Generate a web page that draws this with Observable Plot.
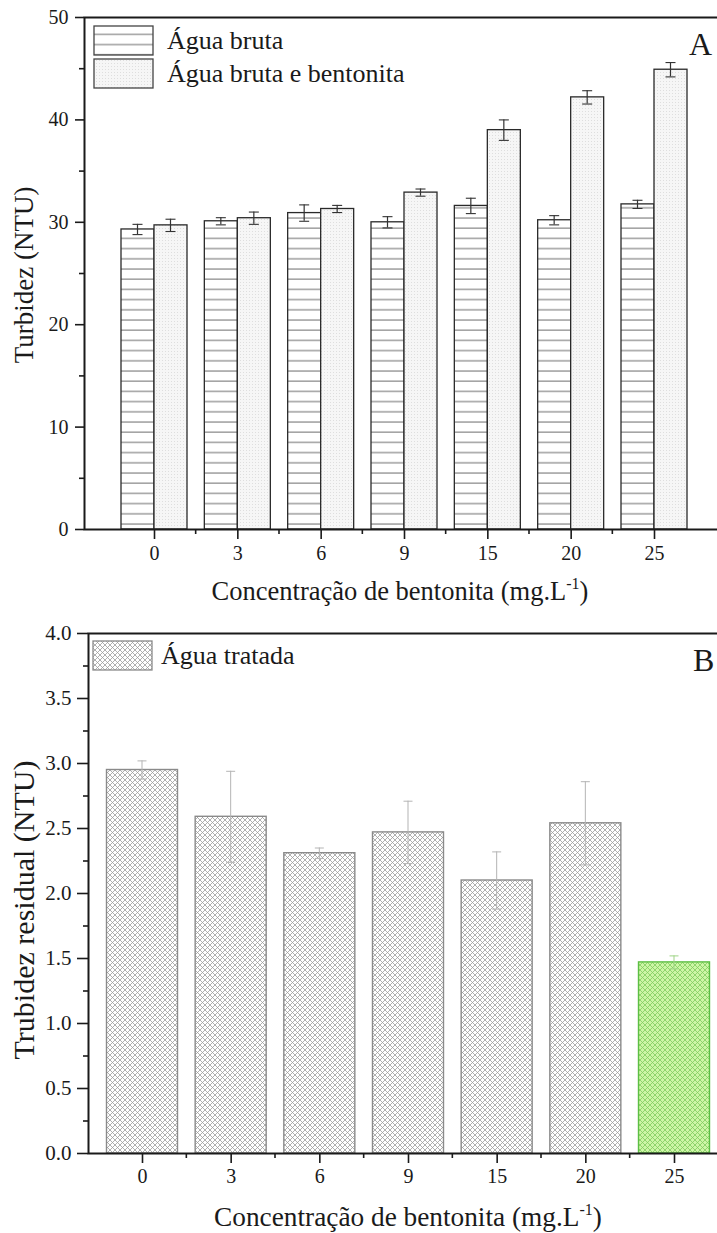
<!DOCTYPE html>
<html><head><meta charset="utf-8">
<script src="https://cdn.jsdelivr.net/npm/d3@7"></script>
<script src="https://cdn.jsdelivr.net/npm/@observablehq/plot@0.6"></script>
<style>
html,body{margin:0;padding:0;background:#fff;overflow:hidden;}
.panel{width:717px;overflow:hidden;}
.panel svg{display:block;max-width:none !important;}
.panel svg text, .panel svg tspan{font-family:'Liberation Serif','Times New Roman','DejaVu Serif',serif !important;}
</style></head><body>
<div id="top" class="panel"></div>
<div id="bottom" class="panel"></div>
<script>
// ---- data ----
const concentrations = ["0", "3", "6", "9", "15", "20", "25"];
const rawWater = [29.3, 30.1, 30.9, 30.0, 31.6, 30.2, 31.75];
const rawWaterErr = [0.5, 0.35, 0.8, 0.55, 0.75, 0.45, 0.4];
const rawBentonite = [29.7, 30.4, 31.3, 32.9, 39.0, 42.2, 44.9];
const rawBentoniteErr = [0.6, 0.6, 0.35, 0.35, 1.0, 0.65, 0.7];
const treated = [2.95, 2.59, 2.31, 2.47, 2.10, 2.54, 1.47];
const treatedErr = [0.07, 0.35, 0.04, 0.24, 0.22, 0.32, 0.05];
const highlighted = ["25"];
const topMajorTicks = [0, 10, 20, 30, 40, 50];
const topMinorTicks = [5, 15, 25, 35, 45];
const botMajorTicks = [0, 0.5, 1, 1.5, 2, 2.5, 3, 3.5, 4];
const botMinorTicks = [0.25, 0.75, 1.25, 1.75, 2.25, 2.75, 3.25, 3.75];
const seriesNames = ["Água bruta", "Água bruta e bentonita"];
const treatedName = "Água tratada";
const xTitle = ["Concentração de bentonita (mg.L", "-1", ")"];
const yTitleTop = "Turbidez (NTU)";
const yTitleBottom = "Trubidez residual (NTU)";

const bruta = concentrations.map((c, i) => ({c, v: rawWater[i], e: rawWaterErr[i]}));
const bent = concentrations.map((c, i) => ({c, v: rawBentonite[i], e: rawBentoniteErr[i]}));
const trat = concentrations.map((c, i) => ({c, v: treated[i], e: treatedErr[i]}));

const FONT = "'Liberation Serif','Times New Roman','DejaVu Serif',serif";
const INK = "#1a1a1a";

function bandGeom(width, ml, n, pi, po) {
  const step = (width - ml) / (n - pi + 2 * po);
  return {step, bw: step * (1 - pi)};
}

// ---------- TOP PANEL ----------
const T = {width: 724, height: 615, ml: 84, mt: 17, mb: 86, pi: 0.208, po: 0.444};
const tg = bandGeom(T.width, T.ml, concentrations.length, T.pi, T.po);
const half = tg.bw / 2, q = half / 2, cap = 5, stem = 0.6;

const topPlot = Plot.plot({
  width: T.width, height: T.height,
  marginLeft: T.ml, marginRight: 0, marginTop: T.mt, marginBottom: T.mb,
  style: {fontFamily: FONT, color: INK, background: "white"},
  x: {type: "band", domain: concentrations, paddingInner: T.pi, paddingOuter: T.po, round: false, label: null},
  y: {domain: [0, 50], label: null},
  marks: [
    Plot.barY(bruta, {x: "c", y: "v", fill: "url(#hlines)", stroke: "#2a2a2a", strokeWidth: 1.3, insetRight: half}),
    Plot.barY(bent, {x: "c", y: "v", fill: "url(#dots)", stroke: "#2a2a2a", strokeWidth: 1.3, insetLeft: half}),
    Plot.barY(bruta, {x: "c", y1: d => d.v - d.e, y2: d => d.v + d.e, fill: "#333", insetLeft: q - stem, insetRight: tg.bw - q - stem}),
    Plot.barY(bent, {x: "c", y1: d => d.v - d.e, y2: d => d.v + d.e, fill: "#333", insetLeft: half + q - stem, insetRight: q - stem}),
    Plot.tickY(bruta, {x: "c", y: d => d.v + d.e, stroke: "#333", strokeWidth: 1.1, insetLeft: q - cap, insetRight: tg.bw - q - cap}),
    Plot.tickY(bruta, {x: "c", y: d => d.v - d.e, stroke: "#333", strokeWidth: 1.1, insetLeft: q - cap, insetRight: tg.bw - q - cap}),
    Plot.tickY(bent, {x: "c", y: d => d.v + d.e, stroke: "#333", strokeWidth: 1.1, insetLeft: half + q - cap, insetRight: q - cap}),
    Plot.tickY(bent, {x: "c", y: d => d.v - d.e, stroke: "#333", strokeWidth: 1.1, insetLeft: half + q - cap, insetRight: q - cap}),
    Plot.frame({stroke: INK, strokeWidth: 2}),
    Plot.axisX({tickSize: 10, tickPadding: 6, fontSize: 20, label: null, stroke: INK, strokeWidth: 1.6}),
    Plot.axisY({ticks: topMajorTicks, tickSize: 9, tickPadding: 7, fontSize: 20, label: null, stroke: INK, strokeWidth: 1.6}),
    Plot.axisY({ticks: topMinorTicks, tickSize: 5, tickFormat: () => "", label: null, stroke: INK, strokeWidth: 1.6})
  ]
});

// ---------- BOTTOM PANEL ----------
const B = {width: 728, height: 618, ml: 88, mt: 18, mb: 80, pi: 0.1992, po: 0.2086};
const bg = bandGeom(B.width, B.ml, concentrations.length, B.pi, B.po);
const bhalf = bg.bw / 2, bcap = 4.5, bstem = 0.5;

const botPlot = Plot.plot({
  width: B.width, height: B.height,
  marginLeft: B.ml, marginRight: 0, marginTop: B.mt, marginBottom: B.mb,
  style: {fontFamily: FONT, color: INK, background: "white"},
  x: {type: "band", domain: concentrations, paddingInner: B.pi, paddingOuter: B.po, round: false, label: null},
  y: {domain: [0, 4], label: null},
  marks: [
    Plot.barY(trat, {filter: d => !highlighted.includes(d.c), x: "c", y: "v", fill: "url(#xhatch)", stroke: "#8a8a8a", strokeWidth: 1.4}),
    Plot.barY(trat, {filter: d => highlighted.includes(d.c), x: "c", y: "v", fill: "url(#xhatchG)", stroke: "#5cbf44", strokeWidth: 1.4}),
    Plot.barY(trat, {filter: d => !highlighted.includes(d.c), x: "c", y1: d => d.v - d.e, y2: d => d.v + d.e, fill: "#b4b4b4", insetLeft: bhalf - bstem, insetRight: bhalf - bstem}),
    Plot.barY(trat, {filter: d => highlighted.includes(d.c), x: "c", y1: d => d.v - d.e, y2: d => d.v + d.e, fill: "#9fd486", insetLeft: bhalf - bstem, insetRight: bhalf - bstem}),
    Plot.tickY(trat, {filter: d => !highlighted.includes(d.c), x: "c", y: d => d.v + d.e, stroke: "#b4b4b4", insetLeft: bhalf - bcap, insetRight: bhalf - bcap}),
    Plot.tickY(trat, {filter: d => !highlighted.includes(d.c), x: "c", y: d => d.v - d.e, stroke: "#b4b4b4", insetLeft: bhalf - bcap, insetRight: bhalf - bcap}),
    Plot.tickY(trat, {filter: d => highlighted.includes(d.c), x: "c", y: d => d.v + d.e, stroke: "#9fd486", insetLeft: bhalf - bcap, insetRight: bhalf - bcap}),
    Plot.tickY(trat, {filter: d => highlighted.includes(d.c), x: "c", y: d => d.v - d.e, stroke: "#9fd486", insetLeft: bhalf - bcap, insetRight: bhalf - bcap}),
    Plot.frame({stroke: INK, strokeWidth: 2}),
    Plot.axisX({tickSize: 10, tickPadding: 5, fontSize: 20, label: null, stroke: INK, strokeWidth: 1.6}),
    Plot.axisY({ticks: botMajorTicks, tickSize: 11, tickPadding: 6, fontSize: 21, tickFormat: d3.format(".1f"), label: null, stroke: INK, strokeWidth: 1.6}),
    Plot.axisY({ticks: botMinorTicks, tickSize: 5, tickFormat: () => "", label: null, stroke: INK, strokeWidth: 1.6})
  ]
});

document.getElementById("top").appendChild(topPlot);
document.getElementById("bottom").appendChild(botPlot);

// ---------- patterns ----------
d3.select(topPlot).insert("defs", ":first-child").html(`
  <pattern id="hlines" patternUnits="userSpaceOnUse" width="8" height="10.2">
    <rect width="8" height="10.2" fill="#ffffff"/>
    <line x1="0" x2="8" y1="3.8" y2="3.8" stroke="#7a7a7a" stroke-width="1.1"/>
  </pattern>
  <pattern id="dots" patternUnits="userSpaceOnUse" width="3" height="3">
    <rect width="3" height="3" fill="#f6f6f6"/>
    <rect width="1" height="1" fill="#dedede"/>
  </pattern>`);
d3.select(botPlot).insert("defs", ":first-child").html(`
  <pattern id="xhatch" patternUnits="userSpaceOnUse" width="5" height="5">
    <rect width="5" height="5" fill="#ffffff"/>
    <path d="M0,0L5,5M5,0L0,5" stroke="#9c9c9c" stroke-width="0.8"/>
  </pattern>
  <pattern id="xhatchG" patternUnits="userSpaceOnUse" width="5" height="5">
    <rect width="5" height="5" fill="#cdf6a6"/>
    <path d="M0,0L5,5M5,0L0,5" stroke="#80cc5e" stroke-width="0.8"/>
  </pattern>`);

// ---------- minor x ticks, titles, legends ----------
function decorate(svg, plot, opts) {
  const sx = plot.scale("x"), sy = plot.scale("y");
  const step = sx.step || sx.bandwidth / (1 - opts.pi);
  const y0 = sy.apply(0);
  const g = d3.select(svg).append("g").attr("text-anchor", "start");
  concentrations.slice(0, -1).forEach(c => {
    const xm = sx.apply(c) + sx.bandwidth + (step - sx.bandwidth) / 2;
    g.append("line").attr("x1", xm).attr("x2", xm).attr("y1", y0).attr("y2", y0 + 5)
      .attr("stroke", INK).attr("stroke-width", 1.6);
  });
  const t = g.append("text").attr("x", opts.xTitleX).attr("y", opts.xTitleY)
    .attr("text-anchor", "middle").attr("font-size", opts.xTitleSize).attr("fill", INK);
  t.append("tspan").text(xTitle[0]);
  t.append("tspan").attr("font-size", 16).attr("dy", -11).text(xTitle[1]);
  t.append("tspan").attr("dy", 11).text(xTitle[2]);
  g.append("text").attr("transform", `translate(${opts.yTitleX},${opts.yTitleY}) rotate(-90)`)
    .attr("text-anchor", "middle").attr("font-size", opts.yTitleSize).attr("fill", INK)
    .text(opts.yTitle);
  g.append("text").attr("x", opts.letterX).attr("y", opts.letterY).attr("font-size", 32)
    .attr("text-anchor", "start").attr("fill", INK).text(opts.letter);
  opts.legend.forEach(item => {
    g.append("rect").attr("x", item.x).attr("y", item.y).attr("width", 59).attr("height", 29)
      .attr("fill", item.fill).attr("stroke", item.stroke).attr("stroke-width", 1.3);
    g.append("text").attr("x", item.tx).attr("y", item.y + 23).attr("font-size", 26)
      .attr("text-anchor", "start").attr("fill", INK).text(item.label);
  });
}

decorate(topPlot, topPlot, {
  pi: T.pi, xTitleX: 400, xTitleY: 600, xTitleSize: 26.5, yTitleX: 33, yTitleY: 275, yTitleSize: 27, yTitle: yTitleTop,
  letter: "A", letterX: 689, letterY: 55,
  legend: [
    {x: 94, y: 26, fill: "url(#hlines)", stroke: "#444", tx: 167, label: seriesNames[0]},
    {x: 94, y: 59, fill: "url(#dots)", stroke: "#444", tx: 167, label: seriesNames[1]}
  ]
});
decorate(botPlot, botPlot, {
  pi: B.pi, xTitleX: 408, xTitleY: 611, xTitleSize: 27.3, yTitleX: 34, yTitleY: 295, yTitleSize: 30, yTitle: yTitleBottom,
  letter: "B", letterX: 693, letterY: 56,
  legend: [
    {x: 93, y: 26, fill: "url(#xhatch)", stroke: "#8a8a8a", tx: 161, label: treatedName}
  ]
});
</script>
</body></html>
